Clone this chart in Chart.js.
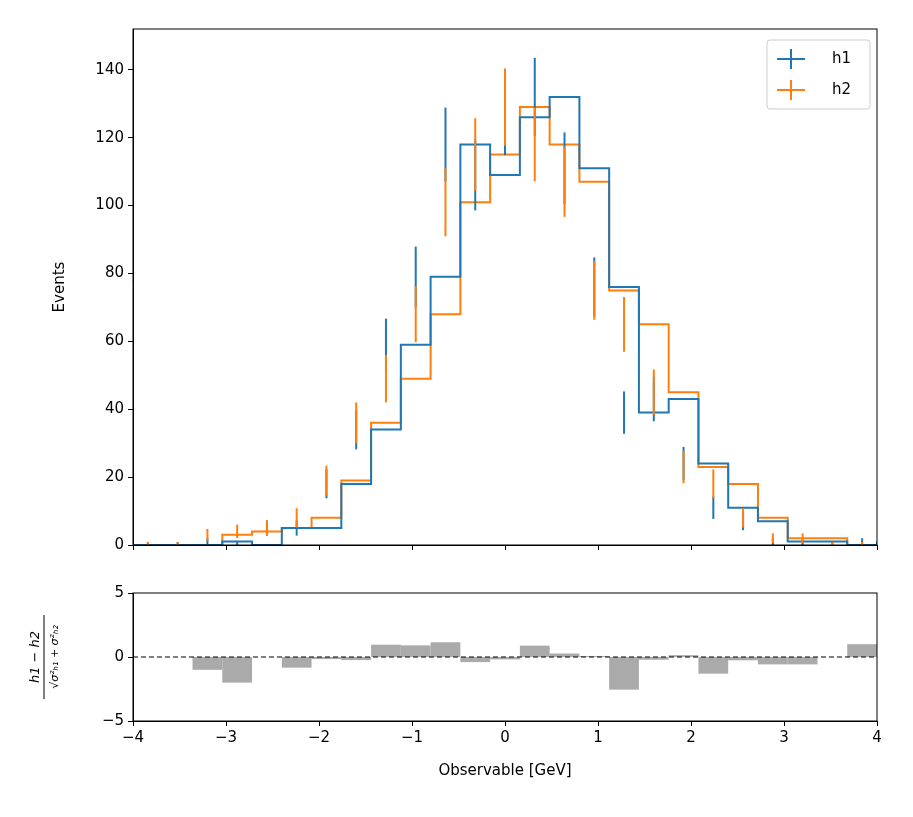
<!DOCTYPE html>
<html><head><meta charset="utf-8">
<script src="https://cdn.jsdelivr.net/npm/chart.js@4"></script>
<style>
body{margin:0;background:#fff}
#wrap{position:relative;width:913px;height:817px}
canvas{position:absolute;left:0}
</style></head><body>
<div id="wrap">
<canvas id="top" style="top:0"></canvas>
<canvas id="bot" style="top:560px"></canvas>
</div>
<script>
// 25 bins from -4 to 4
const edges = [];
for (let i = 0; i <= 25; i++) edges.push(-4 + i * 0.32);
const h1 = [0,0,1,0,5,5,18,34,59,79,118,109,126,132,111,76,39,43,24,11,7,1,1,0,1];
const h2 = [0,0,3,4,5,8,19,36,49,68,101,115,129,118,107,75,65,45,23,18,8,2,2,0,0];
const xTicks = [-4,-3,-2,-1,0,1,2,3,4];
const FONT = 'DejaVu Sans';
const BLUE = '#1f77b4', ORANGE = '#ff7f0e';

const pull = h1.map((a, i) => {
  const s = Math.sqrt(a + h2[i]);
  return s > 0 ? (a - h2[i]) / s : 0;
});

const minus = v => String(v).replace('-', '\u2212');

function stepData(h) {
  const pts = [{x: -4, y: h[0]}];
  h.forEach((v, i) => pts.push({x: edges[i + 1], y: v}));
  return pts;
}

const frame = {
  id: 'frame',
  afterDraw(c) {
    const a = c.chartArea, ctx = c.ctx;
    ctx.save(); ctx.strokeStyle = '#000'; ctx.lineWidth = 1;
    ctx.strokeRect(a.left, a.top, a.right - a.left, a.bottom - a.top);
    ctx.restore();
  }
};

const errBars = {
  id: 'errBars',
  afterDatasetsDraw(c) {
    const ctx = c.ctx, xs = c.scales.x, ys = c.scales.y;
    ctx.save(); ctx.lineWidth = 2;
    [[h1, BLUE], [h2, ORANGE]].forEach(([h, col]) => {
      ctx.strokeStyle = col;
      h.forEach((v, i) => {
        const e = Math.max(Math.sqrt(v), v === 0 ? 0.9 : 0);
        const cx = xs.getPixelForValue((edges[i] + edges[i + 1]) / 2);
        ctx.beginPath();
        ctx.moveTo(cx, ys.getPixelForValue(Math.max(v - e, 0)));
        ctx.lineTo(cx, Math.min(ys.getPixelForValue(v + e), ys.bottom));
        ctx.stroke();
      });
    });
    // legend
    const lx = 767, ly = 40;
    ctx.lineWidth = 1; ctx.strokeStyle = '#ccc'; ctx.fillStyle = '#fff';
    ctx.beginPath(); ctx.roundRect(lx, ly, 103, 69, 3); ctx.fill(); ctx.stroke();
    ctx.font = '15px ' + FONT; ctx.textBaseline = 'middle'; ctx.fillStyle = '#000';
    [['h1', BLUE, 59], ['h2', ORANGE, 90]].forEach(([t, col, y]) => {
      ctx.strokeStyle = col; ctx.lineWidth = 2;
      ctx.beginPath(); ctx.moveTo(777, y); ctx.lineTo(805, y);
      ctx.moveTo(791, y - 10); ctx.lineTo(791, y + 10); ctx.stroke();
      ctx.fillText(t, 832, y);
    });
    ctx.restore();
  }
};

const topCanvas = document.getElementById('top');
topCanvas.width = 913; topCanvas.height = 560;
new Chart(topCanvas, {
  type: 'line',
  data: {datasets: [
    {data: stepData(h1), borderColor: BLUE, borderWidth: 2, stepped: 'before', pointRadius: 0},
    {data: stepData(h2), borderColor: ORANGE, borderWidth: 2, stepped: 'before', pointRadius: 0}
  ]},
  options: {
    responsive: false, animation: false,
    layout: {padding: {left: 47, right: 36, top: 29, bottom: 0}},
    plugins: {legend: {display: false}, tooltip: {enabled: false}},
    scales: {
      x: {type: 'linear', min: -4, max: 4,
        afterBuildTicks: s => { s.ticks = xTicks.map(v => ({value: v})); },
        afterFit: s => { s.height = 15; },
        grid: {drawOnChartArea: false, tickLength: 5, color: '#000'},
        border: {color: '#000'},
        ticks: {callback: () => ''}},
      y: {min: 0, max: 152,
        afterBuildTicks: s => { s.ticks = [0,20,40,60,80,100,120,140].map(v => ({value: v})); },
        afterFit: s => { s.width = 86; },
        grid: {drawOnChartArea: false, tickLength: 5, color: '#000'},
        border: {color: '#000'},
        ticks: {color: '#000', font: {family: FONT, size: 15}, padding: 4},
        title: {display: true, text: 'Events', color: '#000', font: {family: FONT, size: 15}}}
    }
  },
  plugins: [frame, errBars]
});

const pullBars = {
  id: 'pullBars',
  beforeDatasetsDraw(c) {
    const ctx = c.ctx, xs = c.scales.x, ys = c.scales.y;
    ctx.save(); ctx.fillStyle = '#aaaaaa';
    pull.forEach((p, i) => {
      if (p === 0) return;
      const x0 = xs.getPixelForValue(edges[i]), x1 = xs.getPixelForValue(edges[i + 1]);
      const y0 = ys.getPixelForValue(0), y1 = ys.getPixelForValue(p);
      ctx.fillRect(x0, Math.min(y0, y1), x1 - x0, Math.abs(y1 - y0));
    });
    ctx.restore();
  },
  afterDraw(c) {
    const ctx = c.ctx;
    ctx.save();
    ctx.translate(44, (c.chartArea.top + c.chartArea.bottom) / 2);
    ctx.rotate(-Math.PI / 2);
    ctx.fillStyle = '#000'; ctx.strokeStyle = '#000'; ctx.lineWidth = 1;
    ctx.textAlign = 'center'; ctx.textBaseline = 'alphabetic';
    ctx.font = 'italic 13px ' + FONT;
    ctx.fillText('h1 \u2212 h2', 0, -5);
    ctx.beginPath(); ctx.moveTo(-42, 0); ctx.lineTo(42, 0); ctx.stroke();
    ctx.font = 'italic 11px ' + FONT;
    ctx.fillText('\u221A\u03C3\u00B2\u2095\u2081 + \u03C3\u00B2\u2095\u2082', 0, 14);
    ctx.restore();
  }
};

const zeroLine = {
  id: 'zeroLine',
  afterDatasetsDraw(c) {
    const ctx = c.ctx, a = c.chartArea, y = c.scales.y.getPixelForValue(0);
    ctx.save(); ctx.setLineDash([5, 3]); ctx.strokeStyle = '#000'; ctx.lineWidth = 1.2;
    ctx.beginPath(); ctx.moveTo(a.left, y); ctx.lineTo(a.right, y); ctx.stroke();
    ctx.restore();
  }
};

const botCanvas = document.getElementById('bot');
botCanvas.width = 913; botCanvas.height = 230;
new Chart(botCanvas, {
  type: 'line',
  data: {datasets: [{data: [], pointRadius: 0}]},
  options: {
    responsive: false, animation: false,
    layout: {padding: {left: 47, right: 36, top: 33, bottom: 6}},
    plugins: {legend: {display: false}, tooltip: {enabled: false}},
    scales: {
      x: {type: 'linear', min: -4, max: 4,
        afterBuildTicks: s => { s.ticks = xTicks.map(v => ({value: v})); },
        afterFit: s => { s.height = 63; },
        grid: {drawOnChartArea: false, tickLength: 5, color: '#000'},
        border: {color: '#000'},
        ticks: {color: '#000', font: {family: FONT, size: 15}, callback: v => minus(v), maxRotation: 0},
        title: {display: true, text: 'Observable [GeV]', color: '#000', font: {family: FONT, size: 15}}},
      y: {min: -5, max: 5,
        afterBuildTicks: s => { s.ticks = [-5, 0, 5].map(v => ({value: v})); },
        afterFit: s => { s.width = 86; },
        grid: {drawOnChartArea: false, tickLength: 5, color: '#000'},
        border: {color: '#000'},
        ticks: {color: '#000', font: {family: FONT, size: 15}, padding: 4, callback: v => minus(v)}}
    }
  },
  plugins: [frame, pullBars, zeroLine]
});
</script>
</body></html>
